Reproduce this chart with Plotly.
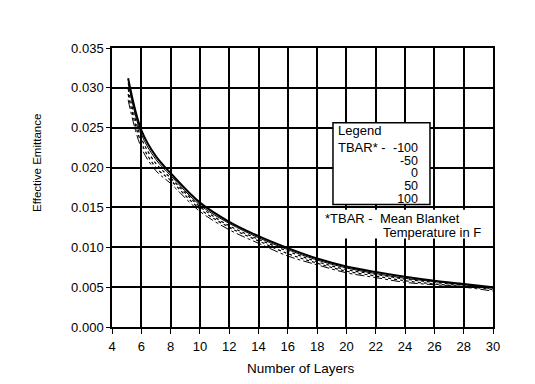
import plotly.graph_objects as go

layers = [5.1, 6, 7, 8, 10, 12, 14, 16, 18, 20, 22, 24, 26, 28, 30]
tbar_labels = ["-100", "-50", "0", "50", "100"]
s_100 = [0.0312, 0.0247, 0.0214, 0.0193, 0.0156, 0.0132, 0.0114, 0.0099, 0.0086, 0.0076, 0.0069, 0.0063, 0.0058, 0.0054, 0.0050]
s_50 = [0.0306, 0.0242, 0.0210, 0.0190, 0.0153, 0.0130, 0.0112, 0.0097, 0.0084, 0.0074, 0.0067, 0.0061, 0.0057, 0.0053, 0.0049]
s_0 = [0.0299, 0.0237, 0.0205, 0.0187, 0.0151, 0.0127, 0.0110, 0.0095, 0.0082, 0.0072, 0.0066, 0.0060, 0.0056, 0.0052, 0.0048]
s_m50 = [0.0292, 0.0231, 0.0200, 0.0184, 0.0148, 0.0125, 0.0108, 0.0092, 0.0080, 0.0070, 0.0064, 0.0058, 0.0054, 0.0051, 0.0047]
s_m100 = [0.0285, 0.0225, 0.0196, 0.0180, 0.0145, 0.0122, 0.0105, 0.0089, 0.0078, 0.0068, 0.0062, 0.0056, 0.0053, 0.0050, 0.0045]
x_ticks = list(range(4, 31, 2))
y_ticks = [0.000, 0.005, 0.010, 0.015, 0.020, 0.025, 0.030, 0.035]

series = [
    ("100", s_100, dict(width=2, dash="solid")),
    ("50", s_50, dict(width=1, dash="solid")),
    ("0", s_0, dict(width=1.2, dash="dot")),
    ("-50", s_m50, dict(width=1.2, dash="dot")),
    ("-100", s_m100, dict(width=1, dash="dashdot")),
]

font = "Liberation Sans, Arial, sans-serif"
fs = 13
fig = go.Figure()
for name, vals, st in series:
    fig.add_trace(go.Scatter(x=layers, y=vals, mode="lines", name=name,
                             line=dict(color="black", shape="spline", **st),
                             showlegend=False))

# legend box and footnote background
fig.add_shape(type="rect", x0=19.08, x1=25.7, y0=0.01538, y1=0.02563,
              line=dict(color="black", width=1.5), fillcolor="white", layer="above")
fig.add_shape(type="rect", x0=18.2, x1=29.8, y0=0.0111, y1=0.0147,
              line=dict(width=0), fillcolor="white", layer="above")

txt = dict(family=font, size=13, color="black")
col_text = "<br>".join(f"<span style='font-size:12.5px'>{t}</span>" for t in tbar_labels)
ann = [
    dict(x=19.27, y=0.02463, text="Legend", xanchor="left", yanchor="middle", font=txt),
    dict(x=19.27, y=0.0225, text="TBAR* -", xanchor="left", yanchor="middle", font=txt),
    dict(x=25.05, y=0.0193, text=col_text, xanchor="right", yanchor="middle",
         align="right", font=dict(family=font, size=9.8, color="black")),
    dict(x=18.4, y=0.01363, text="*TBAR -  Mean Blanket", xanchor="left", yanchor="middle", font=txt),
    dict(x=29.35, y=0.01188, text="Temperature in F", xanchor="right", yanchor="middle", font=txt),
]
for a in ann:
    a.update(xref="x", yref="y", showarrow=False)
# axis titles
ann.append(dict(xref="paper", yref="paper", x=-0.197, y=0.588, text="Effective Emittance",
                textangle=-90, showarrow=False, xanchor="center", yanchor="middle",
                font=dict(family=font, size=11.5, color="black")))
ann.append(dict(xref="paper", yref="paper", x=0.495, y=-0.148, text="Number of Layers",
                showarrow=False, xanchor="center", yanchor="middle",
                font=dict(family=font, size=13.5, color="black")))

fig.update_layout(
    width=535, height=384,
    margin=dict(l=104, r=50, t=40, b=65),
    paper_bgcolor="white", plot_bgcolor="white",
    font=dict(family=font, size=fs, color="black"),
    annotations=ann,
    xaxis=dict(range=[4, 30], tickvals=x_ticks, ticktext=[str(v) for v in x_ticks],
               showgrid=True, gridcolor="black", gridwidth=1.5,
               showline=True, linecolor="black", linewidth=1.5, mirror=True,
               ticks="outside", ticklen=5, tickcolor="black", automargin=False,
               ticklabelstandoff=2, zeroline=False),
    yaxis=dict(range=[0, 0.035], tickvals=y_ticks, ticktext=[f"{v:.3f}" for v in y_ticks],
               showgrid=True, gridcolor="black", gridwidth=1.5,
               showline=True, linecolor="black", linewidth=1.5, mirror=True,
               ticks="outside", ticklen=4, tickcolor="black", automargin=False,
               zeroline=False),
)
fig.write_html("out.html")
